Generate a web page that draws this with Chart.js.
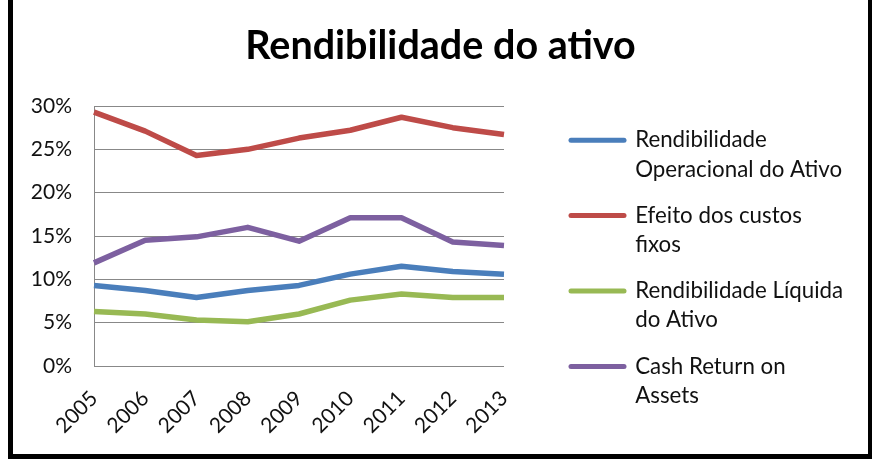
<!DOCTYPE html>
<html>
<head>
<meta charset="utf-8">
<script src="https://cdn.jsdelivr.net/npm/chart.js@4/dist/chart.umd.min.js"></script>
<style>
  html, body { margin: 0; padding: 0; background: #fff; overflow: hidden; }
  #frame { position: absolute; left: 8px; top: -10px; width: 855px; height: 459px; border: 5px solid #000; background: #fff; }
  canvas { display: block; }
</style>
</head>
<body>
<div id="frame"><canvas id="c" width="855" height="459"></canvas></div>
<script>
const years = ["2005", "2006", "2007", "2008", "2009", "2010", "2011", "2012", "2013"];
const rendOperacional = [9.3, 8.7, 7.9, 8.7, 9.3, 10.6, 11.5, 10.9, 10.6];
const efeitoCustosFixos = [29.3, 27.1, 24.3, 25.0, 26.3, 27.2, 28.7, 27.5, 26.7];
const rendLiquida = [6.3, 6.0, 5.3, 5.1, 6.0, 7.6, 8.3, 7.9, 7.9];
const cashReturn = [11.9, 14.5, 14.9, 16.0, 14.4, 17.1, 17.1, 14.3, 13.9];
const seriesNames = ["Rendibilidade Operacional do Ativo", "Efeito dos custos fixos", "Rendibilidade Líquida do Ativo", "Cash Return on Assets"];
const legendLines = [["Rendibilidade", "Operacional do Ativo"], ["Efeito dos custos", "fixos"], ["Rendibilidade Líquida", "do Ativo"], ["Cash Return on", "Assets"]];
const yTicks = [0, 5, 10, 15, 20, 25, 30];
const chartTitle = "Rendibilidade do ativo";

const colors = ["#4A7EBB", "#BE4B48", "#98B954", "#7D60A0"];
const FONT = "Lato, 'DejaVu Sans', sans-serif";

function ds(i, data) {
  return {
    label: seriesNames[i], data: data, borderColor: colors[i], backgroundColor: colors[i],
    borderWidth: 5.5, pointRadius: 0, pointHoverRadius: 0, tension: 0,
    borderJoinStyle: 'round', borderCapStyle: 'butt', fill: false
  };
}

const legendWidthPlugin = {
  id: 'legendWidth',
  beforeLayout(chart) {
    const lg = chart.legend;
    if (lg && !lg._fixedW) {
      const f = lg.fit;
      lg.fit = function () { f.call(this); this.width = 314; };
      lg._fixedW = true;
    }
  }
};

new Chart(document.getElementById('c'), {
  type: 'line',
  data: {
    labels: years,
    datasets: [ds(0, rendOperacional), ds(1, efeitoCustosFixos), ds(2, rendLiquida), ds(3, cashReturn)]
  },
  plugins: [legendWidthPlugin],
  options: {
    responsive: false, animation: false, devicePixelRatio: 1,
    layout: { padding: 0 },
    plugins: {
      tooltip: { enabled: false },
      title: {
        display: true, text: chartTitle, color: '#000',
        font: { family: FONT, size: 39.5, weight: 'bold', lineHeight: 1.2 },
        padding: { top: 28, bottom: 35.6 }
      },
      legend: {
        display: true, position: 'right', align: 'start',
        title: { display: true, text: ' ', font: { size: 10, lineHeight: 1 }, padding: { top: 107, bottom: 0 } },
        labels: {
          usePointStyle: true, pointStyle: 'line', pointStyleWidth: 53,
          padding: 17, color: '#111',
          font: { family: FONT, size: 22.3, lineHeight: 1.31 },
          generateLabels(chart) {
            const items = Chart.defaults.plugins.legend.labels.generateLabels(chart);
            return items.map((it, i) => Object.assign(it, { text: legendLines[i], lineCap: 'round', pointStyle: 'line', lineWidth: 5 }));
          }
        }
      }
    },
    scales: {
      x: {
        type: 'category', offset: false,
        grid: { display: false, drawTicks: false },
        border: { display: false },
        ticks: { minRotation: 45, maxRotation: 45, padding: 20, color: '#111', font: { family: FONT, size: 21 } },
        afterFit(s) { s.height = 88; }
      },
      y: {
        min: 0, max: 30,
        afterBuildTicks(s) { s.ticks = yTicks.map(v => ({ value: v })); },
        grid: { color: '#888', lineWidth: 1, drawTicks: false },
        border: { display: true, color: '#888', width: 1 },
        ticks: { padding: 22, color: '#111', font: { family: FONT, size: 21 }, callback: v => v + '%' },
        afterFit(s) { s.width = 81; }
      },
      yRight: {
        type: 'linear', position: 'right', display: true,
        grid: { display: false, drawTicks: false },
        border: { display: false },
        ticks: { display: false },
        afterFit(s) { s.width = 50; }
      }
    }
  }
});
</script>
</body>
</html>
